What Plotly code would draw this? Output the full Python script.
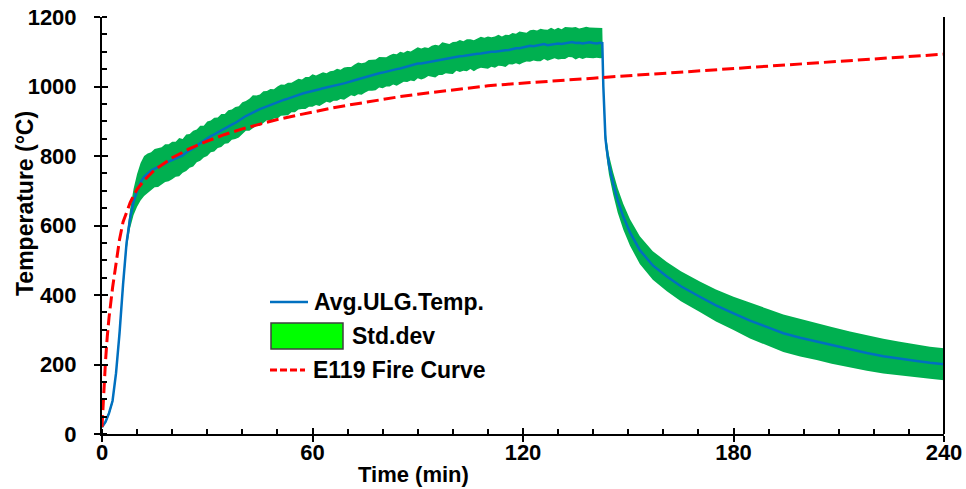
import plotly.graph_objects as go

# ---------------- data ----------------
# heating phase, 1-min samples 0..142 plus the last point before shutdown
time_heat = list(range(0, 143)) + [142.6]
avg_heat = [20, 35, 60, 95, 175, 290, 430, 550, 620, 668, 700, 724, 740, 750, 758, 764, 768, 774, 778, 784,
            788, 792, 798, 802, 810, 815, 822, 830, 837, 843, 850, 857, 862, 868, 874, 879, 884, 890, 895, 902,
            908, 915, 920, 926, 930, 935, 939, 944, 947, 951, 955, 958, 962, 965, 969, 972, 975, 979, 982, 984,
            987, 990, 992, 995, 997, 999, 1002, 1004, 1006, 1009, 1012, 1016, 1018, 1021, 1024, 1028, 1030, 1032,
            1036, 1038, 1040, 1043, 1046, 1048, 1050, 1052, 1055, 1058, 1060, 1062, 1066, 1066, 1068, 1071, 1073,
            1074, 1076, 1079, 1080, 1081, 1083, 1086, 1087, 1088, 1090, 1092, 1092, 1094, 1095, 1097, 1098, 1100,
            1100, 1102, 1103, 1104, 1105, 1108, 1110, 1110, 1112, 1114, 1117, 1116, 1118, 1120, 1122, 1119, 1121,
            1123, 1124, 1122, 1124, 1126, 1128, 1125, 1126, 1124, 1125, 1127, 1125, 1124, 1126, 1125]
dev_up_heat = [3, 5, 6, 8, 10, 12, 14, 18, 26, 38, 48, 56, 60, 57, 53, 56, 55, 51, 56, 50, 53, 49, 54, 47, 52,
               48, 51, 46, 50, 44, 49, 45, 48, 43, 47, 42, 48, 44, 46, 41, 47, 43, 45, 49, 44, 42, 47, 43, 46, 41,
               45, 48, 43, 46, 42, 44, 47, 41, 45, 43, 48, 42, 44, 46, 41, 45, 43, 47, 42, 46, 44, 40, 45, 48, 43,
               41, 46, 44, 42, 47, 45, 41, 44, 46, 43, 48, 42, 45, 41, 44, 47, 43, 45, 40, 44, 46, 42, 48, 44, 41,
               45, 43, 47, 42, 46, 44, 41, 45, 48, 43, 46, 42, 44, 47, 41, 45, 43, 46, 42, 48, 44, 41, 45, 47, 43,
               46, 42, 44, 48, 41, 45, 43, 47, 44, 42, 46, 41, 45, 47, 43, 45, 44, 42, 43]
dev_lo_heat = [3, 5, 7, 9, 12, 14, 16, 20, 28, 38, 46, 52, 55, 58, 56, 54, 57, 55, 53, 57, 55, 52, 56, 50, 53,
               49, 52, 48, 51, 47, 50, 46, 49, 45, 48, 44, 47, 43, 46, 49, 44, 42, 47, 45, 43, 48, 44, 41, 46, 43,
               47, 42, 45, 48, 43, 46, 41, 44, 47, 42, 45, 43, 48, 44, 41, 46, 43, 45, 42, 47, 44, 41, 46, 43, 48,
               45, 42, 44, 47, 41, 45, 43, 46, 42, 48, 44, 41, 45, 43, 47, 42, 46, 44, 41, 45, 48, 43, 46, 42, 44,
               47, 41, 45, 43, 46, 42, 48, 44, 41, 45, 47, 43, 46, 42, 44, 48, 41, 45, 43, 47, 44, 42, 46, 41, 45,
               47, 43, 45, 44, 42, 46, 43, 45, 41, 44, 47, 43, 45, 42, 46, 44, 41, 45, 43]

# cooling phase
time_cool = [142.9, 143.2, 143.5, 143.9, 144.5, 145.7, 147, 148.6, 150.5, 153.3, 157, 161, 165, 170.4, 175,
             180, 184.7, 190, 194.2, 199, 203.7, 208, 213.2, 218, 222.7, 227, 232.2, 236, 240]
avg_cool = [1000, 900, 850, 817, 775, 721, 672, 625, 580, 529, 485, 453, 425, 395, 370,
            347, 326, 306, 290, 277, 266, 255, 243, 233, 224, 217, 210, 205, 201]
dev_cool = [20, 22, 24, 26, 28, 32, 35, 37, 38, 40, 41, 42, 43, 44, 46,
            48, 51, 53, 54, 54, 53, 53, 52, 51, 50, 49, 47, 46, 46]

# ASTM E119 standard fire curve
time_fire = [0, 0.5, 1, 1.5, 2, 3, 4, 5, 6, 7, 8, 9, 10, 12, 15, 20, 25, 30, 35, 40, 45, 50, 55, 60, 65, 70,
             75, 80, 85, 90, 95, 100, 105, 110, 115, 120, 130, 140, 150, 160, 170, 180, 190, 200, 210, 220,
             230, 240]
temp_fire = [20, 130, 210, 280, 335, 420, 495, 560, 610, 640, 665, 686, 704, 730, 760, 795, 821, 843, 862, 878,
             892, 905, 916, 927, 937, 946, 955, 963, 971, 978, 984, 991, 997, 1002, 1006, 1010, 1017, 1024,
             1031, 1038, 1045, 1052, 1059, 1066, 1072, 1079, 1086, 1093]

x_ticks = [0, 60, 120, 180, 240]
y_ticks = [0, 200, 400, 600, 800, 1000, 1200]

series_names = ["Avg.ULG.Temp.", "Std.dev", "E119 Fire Curve"]

# ---------------- build series ----------------
n = min(len(time_heat), len(avg_heat), len(dev_up_heat), len(dev_lo_heat))
t_all = time_heat[:n] + time_cool
avg_all = avg_heat[:n] + avg_cool
up_all = [a + d for a, d in zip(avg_heat[:n], dev_up_heat[:n])] + [a + d for a, d in zip(avg_cool, dev_cool)]
lo_all = [a - d for a, d in zip(avg_heat[:n], dev_lo_heat[:n])] + [a - d for a, d in zip(avg_cool, dev_cool)]

FONT = "Liberation Sans, Arial, sans-serif"
BLUE, GREEN, RED = "#0070C0", "#00B050", "#FF0000"

# layout geometry (pixels)
W, H = 966, 489
ML, MR, MT, MB = 102, 22, 17, 55
PW, PH = W - ML - MR, H - MT - MB


def px(x):
    return (x - ML) / PW


def py(y):
    return (H - MB - y) / PH


fig = go.Figure()

fig.add_trace(go.Scatter(
    x=t_all + t_all[::-1], y=up_all + lo_all[::-1],
    fill="toself", fillcolor=GREEN, line=dict(width=0, color=GREEN),
    mode="lines", name=series_names[1], showlegend=False, hoverinfo="skip"))

fig.add_trace(go.Scatter(
    x=t_all, y=avg_all, mode="lines", name=series_names[0], showlegend=False,
    line=dict(color=BLUE, width=2.5)))

fig.add_trace(go.Scatter(
    x=time_fire, y=temp_fire, mode="lines", name=series_names[2], showlegend=False,
    line=dict(color=RED, width=3, dash="12px,5px")))

# invisible trace to activate overlay axes (inner halves of major ticks)
fig.add_trace(go.Scatter(x=[None], y=[None], xaxis="x2", yaxis="y2", showlegend=False, hoverinfo="skip"))

tickfont = dict(family=FONT, size=22, color="black", weight="bold")
axis_common = dict(showgrid=False, zeroline=False, showline=True, linecolor="black", linewidth=2,
                   ticks="outside", ticklen=6, tickwidth=2, tickcolor="black", tickfont=tickfont,
                   automargin=False)

fig.update_layout(
    width=W, height=H,
    margin=dict(l=ML, r=MR, t=MT, b=MB, autoexpand=False),
    paper_bgcolor="white", plot_bgcolor="white",
    font=dict(family=FONT, color="black"),
    showlegend=False,
    xaxis=dict(range=[0, 240], tickvals=x_ticks, ticktext=[str(v) for v in x_ticks], ticklabelstandoff=-8,
               minor=dict(dtick=10, tick0=0, ticks="inside", ticklen=5, tickwidth=1.5, tickcolor="black"),
               **axis_common),
    yaxis=dict(range=[0, 1200], tickvals=y_ticks, ticktext=[str(v) for v in y_ticks], ticklabelstandoff=13,
               minor=dict(dtick=50, tick0=0, ticks="inside", ticklen=5, tickwidth=1.5, tickcolor="black"),
               **axis_common),
    xaxis2=dict(overlaying="x", matches="x", range=[0, 240], tickvals=x_ticks, ticks="inside", ticklen=6,
                tickwidth=2, tickcolor="black", showticklabels=False, showline=False, showgrid=False,
                zeroline=False, anchor="y", automargin=False),
    yaxis2=dict(overlaying="y", matches="y", range=[0, 1200], tickvals=y_ticks, ticks="inside", ticklen=6,
                tickwidth=2, tickcolor="black", showticklabels=False, showline=False, showgrid=False,
                zeroline=False, anchor="x", automargin=False),
)

# right frame line
fig.add_shape(type="line", xref="paper", yref="paper", x0=1, x1=1, y0=0, y1=1,
              line=dict(color="black", width=2))

# ---- legend drawn manually (to match the swatch sizes of the reference) ----
legfont = dict(family=FONT, size=23, color="black", weight="bold")
fig.add_shape(type="line", xref="paper", yref="paper", x0=px(270), x1=px(308), y0=py(302), y1=py(302),
              line=dict(color=BLUE, width=2.5))
fig.add_annotation(text=series_names[0], xref="paper", yref="paper", x=px(312), y=py(302),
                   xanchor="left", yanchor="middle", showarrow=False, font=legfont)
fig.add_shape(type="rect", xref="paper", yref="paper", x0=px(271), x1=px(343), y0=py(349), y1=py(323),
              fillcolor="#00FF00", line=dict(color="#404040", width=1.5))
fig.add_annotation(text=series_names[1], xref="paper", yref="paper", x=px(350), y=py(336),
                   xanchor="left", yanchor="middle", showarrow=False, font=legfont)
fig.add_shape(type="line", xref="paper", yref="paper", x0=px(270), x1=px(305), y0=py(370), y1=py(370),
              line=dict(color=RED, width=3, dash="7px,3px"))
fig.add_annotation(text=series_names[2], xref="paper", yref="paper", x=px(311), y=py(370),
                   xanchor="left", yanchor="middle", showarrow=False, font=legfont)

# axis titles (offset as in reference)
fig.add_annotation(text="Time (min)", xref="paper", yref="paper", x=px(413), y=py(474),
                   xanchor="center", yanchor="middle", showarrow=False,
                   font=dict(family=FONT, size=22, color="black", weight="bold"))
fig.add_annotation(text="Temperature (°C)", xref="paper", yref="paper", x=px(25), y=py(204),
                   xanchor="center", yanchor="middle", showarrow=False, textangle=-90,
                   font=dict(family=FONT, size=23, color="black", weight="bold"))

fig.write_html("out.html")
